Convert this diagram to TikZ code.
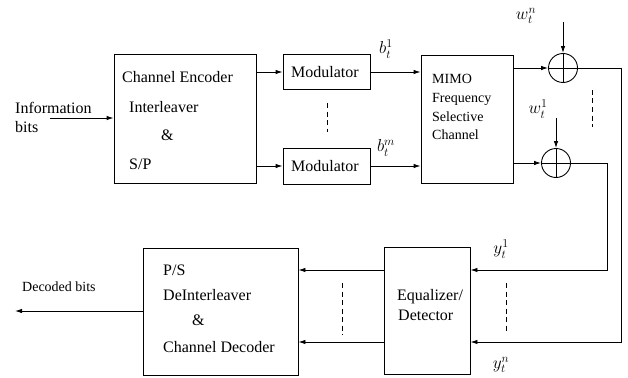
\documentclass[tikz,border=0pt]{standalone}
\usepackage{fontspec}
\setmainfont{Liberation Serif}
\usetikzlibrary{arrows.meta,calc}
\begin{document}
\begin{tikzpicture}[x=1pt,y=-1pt,
  box/.style={draw,line width=0.9pt,inner sep=0pt},
  txt/.style={anchor=west,inner sep=0pt,font=\fontsize{16}{19}\selectfont},
  smalltxt/.style={anchor=west,inner sep=0pt,font=\fontsize{14}{17}\selectfont},
  lbl/.style={inner sep=0pt,font=\fontsize{17.28}{20}\selectfont},
  arr/.style={line width=0.9pt,-{Latex[length=7pt,width=4.5pt]}},
  ln/.style={line width=0.9pt},
  dsh/.style={line width=0.9pt,dash pattern=on 5pt off 3.5pt},
  adder/.style={draw,circle,line width=0.9pt,minimum size=29pt,inner sep=0pt,
    path picture={\draw[line width=0.9pt] (path picture bounding box.north) -- (path picture bounding box.south)
      (path picture bounding box.west) -- (path picture bounding box.east);}}
]
\useasboundingbox (0,0) rectangle (628,377);
% blocks
\node[box,minimum width=142pt,minimum height=129pt] (enc) at (185,118.5) {};
\node[box,minimum width=87pt,minimum height=35pt] (mod1) at (326.5,72) {};
\node[box,minimum width=87pt,minimum height=36pt] (mod2) at (326.5,166) {};
\node[box,minimum width=92pt,minimum height=128pt] (mimo) at (467,119) {};
\node[adder] (add1) at (563,68) {};
\node[adder] (add2) at (556,163) {};
\node[box,minimum width=86pt,minimum height=127pt] (eq) at (427,311) {};
\node[box,minimum width=155pt,minimum height=127pt] (dec) at (220.5,311.5) {};
% texts
\node[txt] (e1) at (122,77) {Channel Encoder};
\node[txt] (e2) at (129,107) {Interleaver};
\node[txt] (e3) at (161,135) {\&};
\node[txt] (e4) at (129,164) {S/P};
\node[txt] (m1) at (291,72) {Modulator};
\node[txt] (m2) at (291,166) {Modulator};
\node[smalltxt] (c1) at (432,79) {MIMO};
\node[smalltxt] (c2) at (432,99) {Frequency};
\node[smalltxt] (c3) at (432,117) {Selective};
\node[smalltxt] (c4) at (432,135) {Channel};
\node[txt] (q1) at (397,297) {Equalizer/};
\node[txt] (q2) at (398,315) {Detector};
\node[txt] (d1) at (163,270) {P/S};
\node[txt] (d2) at (163,295) {DeInterleaver};
\node[txt] (d3) at (192,320) {\&};
\node[txt] (d4) at (163,347) {Channel Decoder};
\node[txt] (i1) at (15,108) {Information};
\node[txt] (i2) at (15,127) {bits};
\node[smalltxt] (ob) at (22,287) {Decoded bits};
% math labels
\node[lbl] (lb1) at (386,49) {$b_t^1$};
\node[lbl] (lbm) at (386,148) {$b_t^m$};
\node[lbl] (lwn) at (526,16) {$w_t^n$};
\node[lbl] (lw1) at (538,109) {$w_t^1$};
\node[lbl] (ly1) at (501,249) {$y_t^1$};
\node[lbl] (lyn) at (501,365) {$y_t^n$};
% coordinates
\coordinate (in) at (50,118);
\coordinate (out) at (15,311);
\coordinate (wn) at (563,22);
\coordinate (w1) at (556,118);
\coordinate (r1) at (621,342);
\coordinate (r2) at (607,270);
% connectors
\draw[arr] (in) -- (enc.west |- in);
\draw[arr] (enc.east |- mod1) -- (mod1.west);
\draw[arr] (enc.east |- mod2) -- (mod2.west);
\draw[arr] (mod1.east) -- (mimo.west |- mod1);
\draw[arr] (mod2.east) -- (mimo.west |- mod2);
\draw[arr] (mimo.east |- add1) -- (add1.west);
\draw[arr] (mimo.east |- add2) -- (add2.west);
\draw[arr] (wn) -- (add1.north);
\draw[arr] (w1) -- (add2.north);
\draw[arr] (add1.east) -| (r1) -- (eq.east |- r1);
\draw[arr] (add2.east) -| (r2) -- (eq.east |- r2);
\draw[arr] (eq.west |- r2) -- (dec.east |- r2);
\draw[arr] (eq.west |- r1) -- (dec.east |- r1);
\draw[arr] (dec.west |- out) -- (out);
% dashed ellipsis lines
\coordinate (da1) at (327,103); \coordinate (da2) at (327,132);
\coordinate (db1) at (592,90);  \coordinate (db2) at (592,127);
\coordinate (dc1) at (506,283); \coordinate (dc2) at (506,333);
\coordinate (dd1) at (342,283); \coordinate (dd2) at (342,335);
\draw[dsh] (da1) -- (da2);
\draw[dsh] (db1) -- (db2);
\draw[dsh] (dc1) -- (dc2);
\draw[dsh] (dd1) -- (dd2);
\end{tikzpicture}
\end{document}
